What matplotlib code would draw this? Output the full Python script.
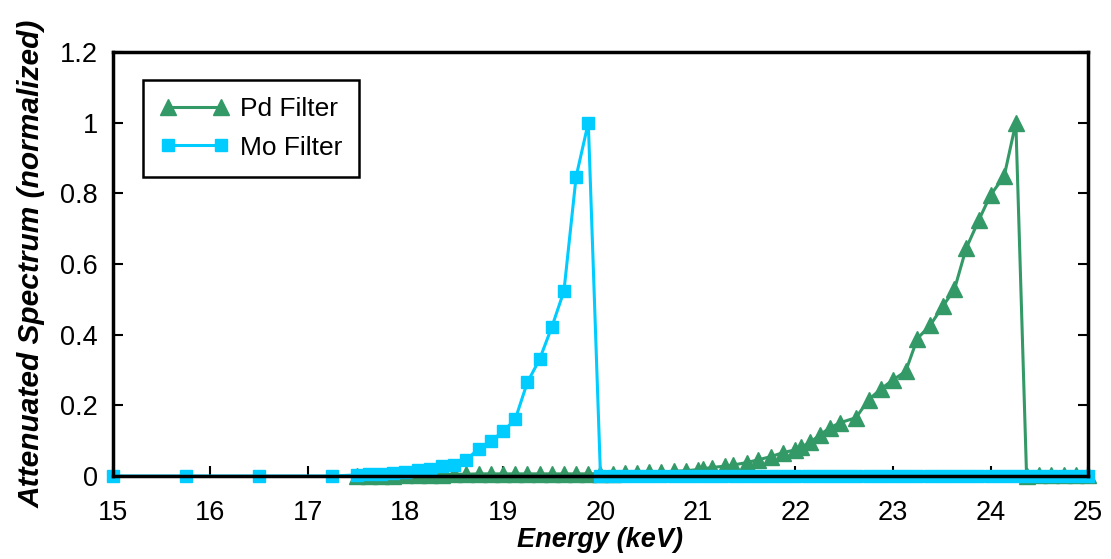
import matplotlib
matplotlib.use("Agg")
import matplotlib.pyplot as plt
import numpy as np

plt.rcParams['font.family'] = ['Liberation Sans', 'DejaVu Sans']

# ---------------- data ----------------
mo_energy = [15.0, 15.75, 16.5, 17.25,
             17.5, 17.625, 17.75, 17.875, 18.0, 18.125, 18.25, 18.375, 18.5, 18.625,
             18.75, 18.875, 19.0, 19.125, 19.25, 19.375, 19.5, 19.625, 19.75, 19.875,
             20.0, 20.125, 20.25, 20.375, 20.5, 20.625, 20.75, 20.875, 21.0, 21.125,
             21.25, 21.375, 21.5, 21.625, 21.75, 21.875, 22.0, 22.125, 22.25, 22.375,
             22.5, 22.625, 22.75, 22.875, 23.0, 23.125, 23.25, 23.375, 23.5, 23.625,
             23.75, 23.875, 24.0, 24.125, 24.25, 24.375, 24.5, 24.625, 24.75, 24.875, 25.0]
mo_values = [0.0, 0.0, 0.0, 0.0,
             0.003, 0.005, 0.007, 0.009, 0.012, 0.016, 0.021, 0.027, 0.032, 0.046,
             0.077, 0.098, 0.126, 0.160, 0.265, 0.330, 0.421, 0.523, 0.847, 1.0,
             0.0, 0.0, 0.0, 0.0, 0.0, 0.0, 0.0, 0.0, 0.0, 0.0,
             0.0, 0.0, 0.0, 0.0, 0.0, 0.0, 0.0, 0.0, 0.0, 0.0,
             0.0, 0.0, 0.0, 0.0, 0.0, 0.0, 0.0, 0.0, 0.0, 0.0,
             0.0, 0.0, 0.0, 0.0, 0.0, 0.0, 0.0, 0.0, 0.0, 0.0, 0.0]

pd_energy = [17.5, 17.625, 17.75, 17.875, 18.0, 18.125, 18.25, 18.375, 18.5, 18.625,
             18.75, 18.875, 19.0, 19.125, 19.25, 19.375, 19.5, 19.625, 19.75, 19.875,
             20.0, 20.125, 20.25, 20.375, 20.5, 20.625, 20.75, 20.875, 21.0, 21.05,
             21.14, 21.28, 21.36, 21.5, 21.62, 21.75, 21.87, 22.0, 22.06, 22.15,
             22.25, 22.35, 22.46, 22.62, 22.75, 22.88, 23.0, 23.13, 23.25, 23.38,
             23.51, 23.63, 23.75, 23.88, 24.0, 24.14, 24.26, 24.37, 24.5, 24.625,
             24.75, 24.875, 25.0]
pd_values = [0.0, 0.0, 0.001, 0.001, 0.002, 0.002, 0.003, 0.004, 0.005, 0.005,
             0.006, 0.006, 0.006, 0.006, 0.006, 0.006, 0.006, 0.006, 0.006, 0.006,
             0.007, 0.007, 0.008, 0.008, 0.010, 0.012, 0.013, 0.015, 0.018, 0.020,
             0.024, 0.028, 0.031, 0.038, 0.046, 0.055, 0.066, 0.074, 0.082, 0.095,
             0.116, 0.136, 0.151, 0.165, 0.216, 0.247, 0.272, 0.296, 0.389, 0.426,
             0.480, 0.528, 0.644, 0.724, 0.795, 0.848, 1.0, 0.0, 0.004, 0.004,
             0.004, 0.004, 0.004]

x_ticks = [15, 16, 17, 18, 19, 20, 21, 22, 23, 24, 25]
y_ticks = [0, 0.2, 0.4, 0.6, 0.8, 1.0, 1.2]
y_tick_labels = ["0", "0.2", "0.4", "0.6", "0.8", "1", "1.2"]

pd_color = '#339966'
mo_color = '#00CCFF'

# ---------------- figure ----------------
fig = plt.figure(figsize=(11.11, 5.59), dpi=100)
ax = fig.add_axes([0.1017, 0.1485, 0.8776, 0.7585])

ax.plot(pd_energy, pd_values, color=pd_color, marker='^', markersize=11,
        linewidth=2.2, label='Pd Filter', clip_on=False, zorder=2)
ax.plot(mo_energy, mo_values, color=mo_color, marker='s', markersize=9,
        linewidth=2.2, label='Mo Filter', clip_on=False, zorder=2.1)

ax.set_xlim(15, 25)
ax.set_ylim(0, 1.2)
ax.set_xticks(x_ticks)
ax.set_xticklabels([str(t) for t in x_ticks])
ax.set_yticks(y_ticks)
ax.set_yticklabels(y_tick_labels)

ax.tick_params(axis='both', direction='in', length=7, width=1.5, labelsize=19.5,
               colors='black')
ax.tick_params(axis='x', pad=17)
ax.tick_params(axis='y', right=True, pad=11)
for sp in ax.spines.values():
    sp.set_linewidth(2.5)
    sp.set_color('black')
    sp.set_zorder(3)

ax.set_xlabel('Energy (keV)', fontsize=19.5, fontweight='bold', fontstyle='italic',
              labelpad=1)
ax.set_ylabel('Attenuated Spectrum (normalized)', fontsize=21.5, fontweight='bold',
              fontstyle='italic', labelpad=10)

leg = ax.legend(loc='upper left', bbox_to_anchor=(0.031, 0.934), borderaxespad=0,
                fontsize=19, numpoints=2, fancybox=False, framealpha=1,
                edgecolor='black', handlelength=2.6, borderpad=0.65,
                labelspacing=0.55, handletextpad=0.4)
leg.get_frame().set_linewidth(1.8)

fig.savefig('out.png', dpi=100)
